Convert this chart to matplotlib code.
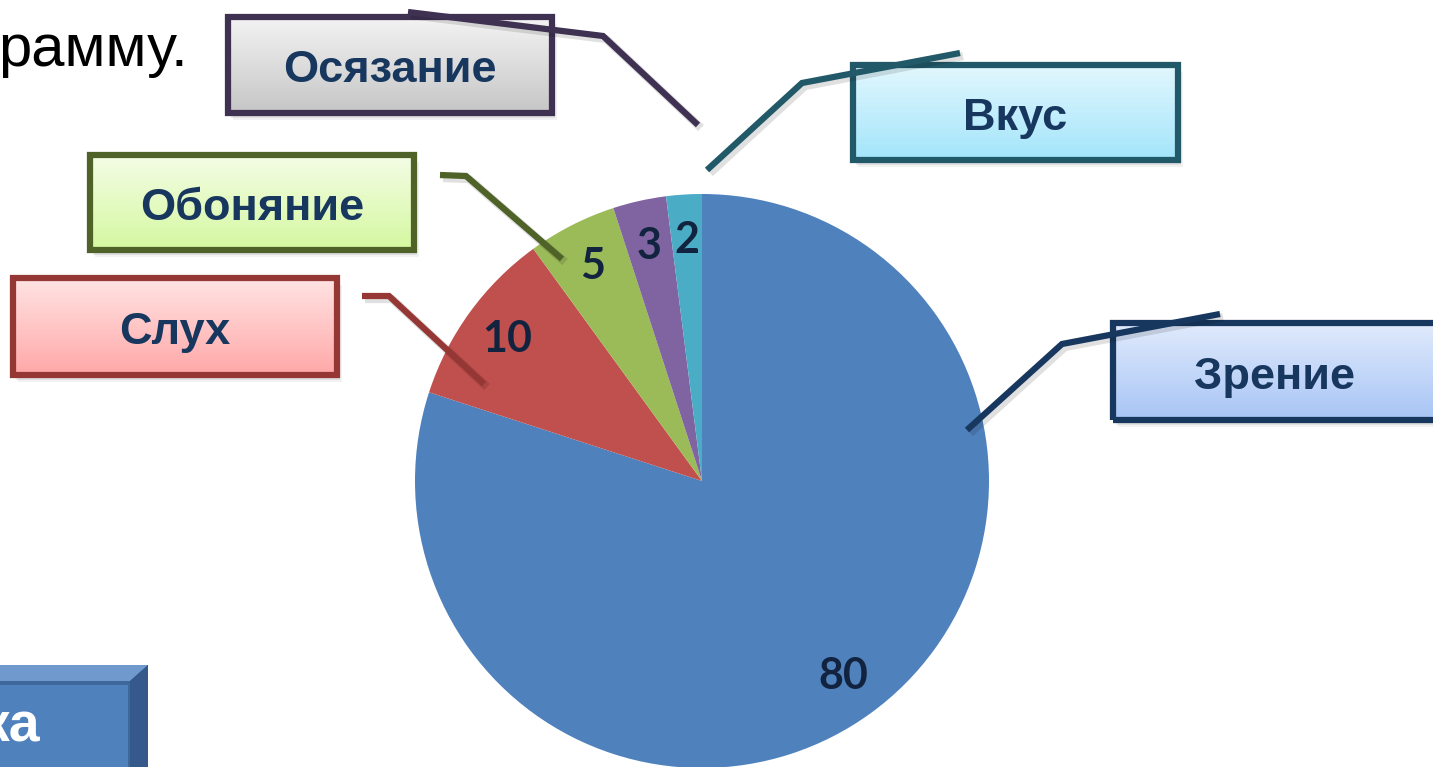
import numpy as np
import matplotlib.pyplot as plt
from matplotlib.patches import Rectangle, Polygon

W, H = 1433, 767

senses = ["Зрение", "Слух", "Обоняние", "Осязание", "Вкус"]
values = [80, 10, 5, 3, 2]
colors = ["#4F81BD", "#C0504D", "#9BBB59", "#8064A2", "#4BACC6"]

# callout boxes: (x0, y0, x1, y1) in pixel coords from top-left
boxes = {
    "Зрение": (1113, 323, 1440, 420),
    "Слух": (13, 278, 337, 375),
    "Обоняние": (90, 155, 414, 250),
    "Осязание": (228, 17, 552, 113),
    "Вкус": (853, 65, 1178, 160),
}
edge = {
    "Зрение": "#17375E",
    "Слух": "#953735",
    "Обоняние": "#4F6228",
    "Осязание": "#3F3151",
    "Вкус": "#215968",
}
grad = {
    "Зрение": ("#e0eafc", "#a8c5f5"),
    "Слух": ("#ffe3e3", "#ffa8a8"),
    "Обоняние": ("#f4fde6", "#d5f8a0"),
    "Осязание": ("#f3f3f3", "#c6c6c6"),
    "Вкус": ("#e2f7fe", "#a3e5fb"),
}
leaders = {
    "Зрение": [(1220, 314), (1062, 344), (967, 430)],
    "Слух": [(362, 296), (389, 296), (484, 384)],
    "Обоняние": [(440, 175), (466, 176), (562, 259)],
    "Осязание": [(408, 12), (603, 36), (698, 125)],
    "Вкус": [(960, 53), (802, 83), (707, 170)],
}


def Y(py):
    return H - py


def hex2rgb(h):
    h = h.lstrip("#")
    return np.array([int(h[i:i + 2], 16) / 255 for i in (0, 2, 4)])


fig = plt.figure(figsize=(W / 100, H / 100), dpi=100)
ax = fig.add_axes([0, 0, 1, 1])

ax.pie(values, colors=colors, startangle=90, counterclock=False,
       center=(702, Y(481)), radius=287,
       autopct=lambda p: f"{p * sum(values) / 100:.0f}", pctdistance=0.84,
       wedgeprops=dict(linewidth=0),
       textprops=dict(fontsize=31, fontweight="bold", color="#12233F",
                      family=["Lato", "Open Sans", "DejaVu Sans"]))

for name in senses:
    x0, y0, x1, y1 = boxes[name]
    # soft shadow
    for k, a in [(7, 0.05), (5, 0.08), (3, 0.12)]:
        ax.add_patch(Rectangle((x0 + k - 2, Y(y1 + k)), x1 - x0, y1 - y0,
                               facecolor="black", alpha=a, linewidth=0, zorder=3))
    c_top, c_bot = hex2rgb(grad[name][0]), hex2rgb(grad[name][1])
    t = np.linspace(0, 1, 64)[:, None, None]
    img = c_top * (1 - t) + c_bot * t
    ax.imshow(img, extent=(x0, x1, Y(y1), Y(y0)), aspect="auto", zorder=4,
              interpolation="bilinear")
    ax.add_patch(Rectangle((x0, Y(y1)), x1 - x0, y1 - y0, facecolor="none",
                           edgecolor=edge[name], linewidth=4.5, zorder=5))
    cx = (x0 + x1) / 2 if name != "Зрение" else 1275
    ax.text(cx, Y((y0 + y1) / 2 + 6), name, ha="center", va="center",
            fontsize=32.5, fontweight="bold", color="#17375E",
            family=["Liberation Sans", "DejaVu Sans"], zorder=6)

for name in senses:
    pts = leaders[name]
    xs = [p[0] for p in pts]
    ys = [Y(p[1]) for p in pts]
    ax.plot([x + 3 for x in xs], [y - 3 for y in ys], color="black", alpha=0.12,
            linewidth=6, solid_capstyle="butt", zorder=6)
    ax.plot(xs, ys, color=edge[name], linewidth=4.5, solid_capstyle="butt",
            solid_joinstyle="miter", zorder=7)

# leftover slide text
ax.text(-2, Y(50), "рамму.", ha="left", va="center", fontsize=43,
        color="black", family=["Liberation Sans", "DejaVu Sans"])

# bottom-left button fragment
ax.add_patch(Rectangle((-5, Y(767)), 153, 102, facecolor="#3E679B", linewidth=0, zorder=3))
ax.add_patch(Polygon([(-5, Y(665)), (148, Y(665)), (130, Y(681)), (-5, Y(681))],
                     facecolor="#7099CE", linewidth=0, zorder=4))
ax.add_patch(Polygon([(148, Y(665)), (148, Y(770)), (130, Y(770)), (130, Y(681))],
                     facecolor="#35598A", linewidth=0, zorder=4))
ax.add_patch(Rectangle((-5, Y(770)), 133, 85, facecolor="#4F81BD", linewidth=0, zorder=4))
ax.text(40, Y(727), "ка", ha="right", va="center", fontsize=40, fontweight="bold",
        color="white", family=["Liberation Sans", "DejaVu Sans"], zorder=5)

ax.set_xlim(0, W)
ax.set_ylim(0, H)
ax.set_aspect("auto")
ax.axis("off")

fig.savefig("out.png", dpi=100)
